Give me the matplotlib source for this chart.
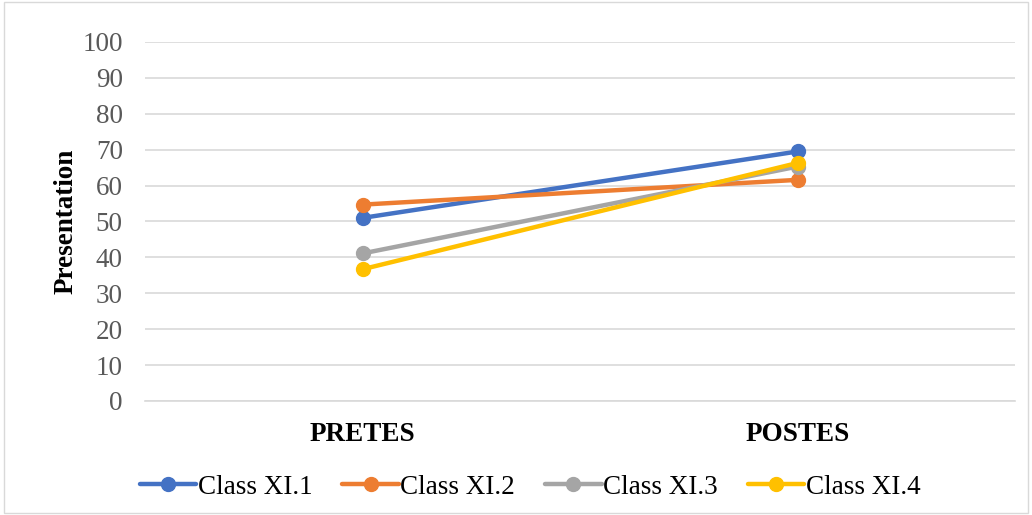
import matplotlib.pyplot as plt
from matplotlib.patches import Rectangle

plt.rcParams['font.family'] = ['Liberation Serif', 'DejaVu Serif']

tests = ["PRETES", "POSTES"]
class_names = ["Class XI.1", "Class XI.2", "Class XI.3", "Class XI.4"]
class_scores = [
    [51.0, 69.5],
    [54.7, 61.6],
    [41.1, 65.3],
    [36.7, 66.3],
]
colors = ["#4472C4", "#ED7D31", "#A5A5A5", "#FFC000"]

fig = plt.figure(figsize=(10.32, 5.15), dpi=100)
ax = fig.add_axes([145 / 1032, 1 - 401 / 515, 870 / 1032, 359 / 515])

xs = list(range(len(tests)))
for name, scores, c in zip(class_names, class_scores, colors):
    ax.plot(xs, scores, color=c, linewidth=3.2, marker='o', markersize=10,
            label=name, solid_capstyle='round', zorder=3)

ax.set_xlim(-0.5, 1.5)
ax.set_ylim(0, 100)
ax.set_yticks(range(0, 101, 10))
ax.set_xticks(xs)
ax.set_xticklabels(tests, fontsize=19.5, fontweight='bold')
ax.tick_params(axis='y', labelsize=19.5, labelcolor='#595959', length=0, pad=16)
ax.tick_params(axis='x', length=0, pad=15)
ax.grid(axis='y', color='#D9D9D9', linewidth=1.2)
ax.set_axisbelow(True)
for s in ['top', 'right', 'left']:
    ax.spines[s].set_visible(False)
ax.spines['bottom'].set_color('#D9D9D9')
ax.spines['bottom'].set_linewidth(1.2)

ax.set_ylabel("Presentation", fontsize=19.5, fontweight='bold', labelpad=3)

fig.legend(loc='center', bbox_to_anchor=(530 / 1032, 1 - 487 / 515), ncol=4,
           frameon=False, fontsize=19.5, handlelength=2.1, columnspacing=1.1,
           handletextpad=0.05)

# light frame around the chart
fig.patches.append(Rectangle((0.004, 0.004), 0.992, 0.992, transform=fig.transFigure,
                             fill=False, edgecolor='#D9D9D9', linewidth=1))

fig.savefig("out.png", dpi=100)
